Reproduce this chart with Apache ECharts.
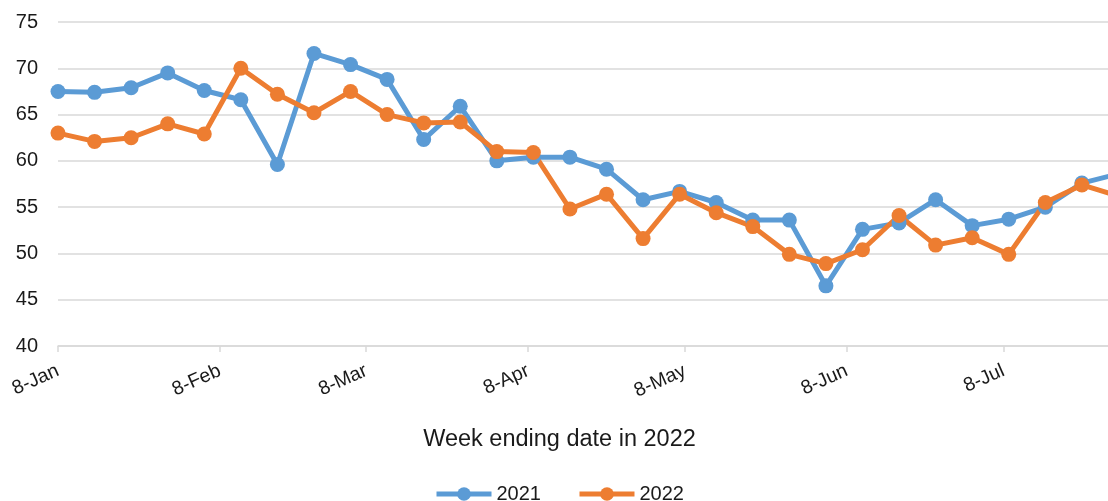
<!DOCTYPE html>
<html>
<head>
<meta charset="utf-8">
<script src="https://cdn.jsdelivr.net/npm/echarts@6/dist/echarts.min.js"></script>
<style>
html,body{margin:0;padding:0;background:#fff;}
#chart{width:1108px;height:501px;}
</style>
</head>
<body>
<div id="chart"></div>
<script>
// Week ending dates (2022)
var weeks = ['2022-01-08','2022-01-15','2022-01-22','2022-01-29','2022-02-05','2022-02-12','2022-02-19','2022-02-26',
  '2022-03-05','2022-03-12','2022-03-19','2022-03-26','2022-04-02','2022-04-09','2022-04-16','2022-04-23','2022-04-30',
  '2022-05-07','2022-05-14','2022-05-21','2022-05-28','2022-06-04','2022-06-11','2022-06-18','2022-06-25',
  '2022-07-02','2022-07-09','2022-07-16','2022-07-23','2022-07-30'];
var values2021 = [67.5,67.4,67.9,69.5,67.6,66.6,59.6,71.6,70.4,68.8,62.3,65.9,60.0,60.4,60.4,59.1,55.8,
  56.7,55.5,53.6,53.6,46.5,52.6,53.3,55.8,53.0,53.7,55.0,57.6,58.6];
var values2022 = [63.0,62.1,62.5,64.0,62.9,70.0,67.2,65.2,67.5,65.0,64.1,64.2,61.0,60.9,54.8,56.4,51.6,
  56.4,54.4,52.9,49.9,48.9,50.4,54.1,50.9,51.7,49.9,55.5,57.4,56.2];
var tickDates = ['2022-01-08','2022-02-08','2022-03-08','2022-04-08','2022-05-08','2022-06-08','2022-07-08'];
var tickLabels = ['8-Jan','8-Feb','8-Mar','8-Apr','8-May','8-Jun','8-Jul'];
var axisEndDate = '2022-07-28';
var yTicks = {min: 40, max: 75, interval: 5};

function dayOffset(s) {
  var t0 = Date.UTC(2022, 0, 8);
  var p = s.split('-');
  var t = Date.UTC(+p[0], +p[1] - 1, +p[2]);
  return Math.round((t - t0) / 86400000);
}
var tickVals = tickDates.map(dayOffset);
function pairs(vals) { return weeks.map(function (w, i) { return [dayOffset(w), vals[i]]; }); }

var font = 'Liberation Sans, Arial, sans-serif';
var chart = echarts.init(document.getElementById('chart'));
chart.setOption({
  animation: false,
  color: ['#5B9BD5', '#ED7D31'],
  textStyle: {fontFamily: font},
  grid: {left: 58, right: 0, top: 22, bottom: 155, containLabel: false},
  xAxis: {
    type: 'value',
    min: 0,
    max: dayOffset(axisEndDate),
    name: 'Week ending date in 2022',
    nameLocation: 'middle',
    nameGap: 82,
    nameTextStyle: {fontSize: 23.5, color: '#1a1a1a', fontFamily: font, padding: [0, 47, 0, 0]},
    splitLine: {show: false},
    axisLine: {show: true, lineStyle: {color: '#d9d9d9', width: 1.5}},
    axisTick: {show: true, customValues: tickVals, length: 6, lineStyle: {color: '#d9d9d9', width: 1.5}},
    axisLabel: {
      customValues: tickVals,
      rotate: 24,
      margin: 24,
      fontSize: 19.5,
      color: '#1a1a1a',
      fontFamily: font,
      formatter: function (v) { var i = tickVals.indexOf(Math.round(v)); return i >= 0 ? tickLabels[i] : ''; }
    }
  },
  yAxis: {
    type: 'value',
    min: yTicks.min, max: yTicks.max, interval: yTicks.interval,
    axisLine: {show: false},
    axisTick: {show: false},
    splitLine: {lineStyle: {color: '#d9d9d9', width: 1.5}},
    axisLabel: {fontSize: 20, color: '#1a1a1a', margin: 20, fontFamily: font}
  },
  legend: {
    bottom: -8,
    left: 429,
    itemWidth: 55,
    itemHeight: 17,
    itemGap: 36,
    lineStyle: {width: 5},
    textStyle: {fontSize: 20, color: '#1a1a1a', fontFamily: font},
    data: ['2021', '2022']
  },
  series: [
    {name: '2021', type: 'line', data: pairs(values2021), symbol: 'circle', symbolSize: 15,
      lineStyle: {width: 5}, clip: true},
    {name: '2022', type: 'line', data: pairs(values2022), symbol: 'circle', symbolSize: 15,
      lineStyle: {width: 5}, clip: true}
  ]
});
</script>
</body>
</html>
